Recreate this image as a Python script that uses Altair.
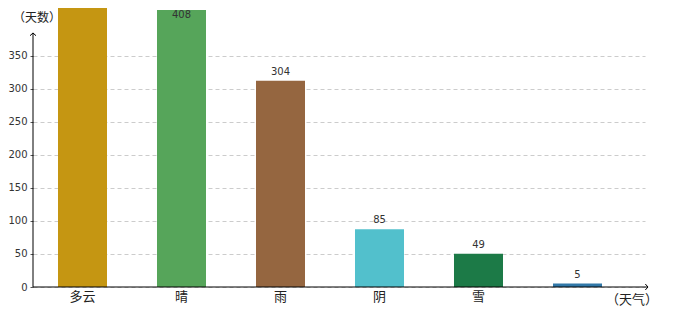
import altair as alt
import pandas as pd

# ---- data ----
categories = ["多云", "晴", "雨", "阴", "雪", "其他"]
days = [610, 408, 304, 85, 49, 5]
colors = ["#C59612", "#56A55A", "#956640", "#52C0CC", "#1C7A47", "#3178A8"]
y_ticks = [0, 50, 100, 150, 200, 250, 300, 350]
y_axis_title = "（天数）"
x_axis_title = "（天气）"

df = pd.DataFrame({"cat": categories, "val": days, "col": colors})

W, H = 612, 279
FONT_NUM = "DejaVu Sans"
FONT_CJK = "Noto Sans CJK SC"
BAR_MAX = 411

x_enc = alt.X(
    "cat:N",
    sort=categories,
    scale=alt.Scale(range=[0, 594], paddingInner=0.505, paddingOuter=0.2525),
    axis=alt.Axis(
        title=None, domain=False, ticks=False, labelAngle=0,
        labelFont=FONT_CJK, labelFontSize=13, labelColor="#222",
        labelPadding=3,
        labelExpr="datum.label == '其他' ? '' : datum.label",
    ),
)

bar_scale = alt.Scale(domain=[0, BAR_MAX], nice=False, zero=True)

bars = alt.Chart(df).mark_bar(clip=True).encode(
    x=x_enc,
    y=alt.Y("val:Q", scale=bar_scale, axis=None),
    color=alt.Color("col:N", scale=None, legend=None),
)

labels = alt.Chart(df).transform_filter(
    f"datum.val <= {BAR_MAX}"
).transform_calculate(
    ly="min(datum.val, 388)"
).mark_text(
    baseline="bottom", dy=-4, font=FONT_NUM, fontSize=10, color="#333"
).encode(
    x=alt.X("cat:N", sort=categories),
    y=alt.Y("ly:Q", scale=bar_scale, axis=None),
    text="val:Q",
)

# y axis (grid, ticks, labels) + the y axis line with arrow
yline_df = pd.DataFrame({"lo": [0], "hi": [385]})
y_line = alt.Chart(yline_df).mark_rule(color="black", strokeWidth=1).encode(
    x=alt.value(0),
    y=alt.Y(
        "lo:Q",
        scale=alt.Scale(domain=[0, 422.7], nice=False, zero=True),
        axis=alt.Axis(
            values=y_ticks, title=None, domain=False,
            grid=True, gridDash=[4, 3], gridColor="#cccccc", gridWidth=1,
            tickSize=3, tickColor="#555",
            labelFont=FONT_NUM, labelFontSize=10, labelColor="#333",
            labelPadding=3,
        ),
    ),
    y2="hi:Q",
)

y_arrow = alt.Chart(yline_df).mark_point(
    shape="M-1,0.9L0,0L1,0.9", filled=False, stroke="black", strokeWidth=1,
    size=36, opacity=1,
).encode(x=alt.value(0), y=alt.value(25))

x_line = alt.Chart(yline_df).mark_rule(color="black", strokeWidth=1).encode(
    x=alt.value(0), x2=alt.value(615), y=alt.value(H)
)
x_arrow = alt.Chart(yline_df).mark_point(
    shape="M-0.9,-1L0,0L-0.9,1", filled=False, stroke="black", strokeWidth=1,
    size=36, opacity=1,
).encode(x=alt.value(615), y=alt.value(H))

ytitle = alt.Chart(pd.DataFrame({"t": [y_axis_title]})).mark_text(
    font=FONT_CJK, fontSize=12, color="#222", baseline="middle", align="center"
).encode(x=alt.value(4), y=alt.value(10), text="t:N")

xtitle = alt.Chart(pd.DataFrame({"t": [x_axis_title]})).mark_text(
    font=FONT_CJK, fontSize=13, color="#222", baseline="middle", align="center"
).encode(x=alt.value(599), y=alt.value(292), text="t:N")

chart = alt.layer(
    y_line, bars, ytitle, labels, x_line, x_arrow, y_arrow, xtitle
).resolve_scale(y="independent").properties(
    width=W, height=H,
    padding={"left": 25, "top": 0, "right": 20, "bottom": 33},
    autosize=alt.AutoSizeParams(type="none"),
    background="white",
).configure_view(stroke=None)

chart.save("out.html", embed_options={"renderer": "svg", "actions": False})
